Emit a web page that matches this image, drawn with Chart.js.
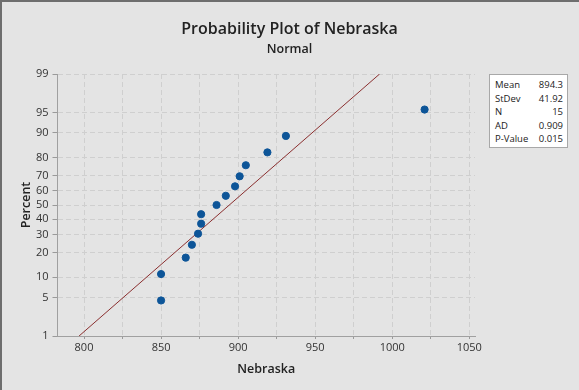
<!DOCTYPE html>
<html>
<head>
<meta charset="utf-8">
<script src="https://cdn.jsdelivr.net/npm/chart.js@4"></script>
<style>
  html, body { margin: 0; padding: 0; }
  body { width: 579px; height: 390px; background: #e4e4e4; position: relative; overflow: hidden;
         font-family: "Open Sans", "Noto Sans", sans-serif; color: #222; }
  #frame { position: absolute; left: 0; top: 0; width: 579px; height: 390px; box-sizing: border-box;
           border-left: 2px solid #6e6e6e; border-top: 2px solid #6e6e6e; pointer-events: none; }
  #wrap { position: absolute; left: 0; top: 0; width: 579px; height: 390px; }
  .title { position: absolute; left: 0; width: 579px; text-align: center; font-weight: 600; }
  #t1 { top: 17px; font-size: 16px; }
  #t2 { top: 40px; font-size: 12.5px; }
  #stats { position: absolute; left: 489px; top: 74px; width: 79px; height: 74px; box-sizing: border-box;
           background: #fff; border: 1px solid #a8a8a8; font-size: 9.5px; padding: 3px 4px 0 5px; line-height: 13.6px; }
  #stats div { display: flex; justify-content: space-between; }
</style>
</head>
<body>
<div id="wrap"><canvas id="chart" width="579" height="390"></canvas></div>
<div class="title" id="t1">Probability Plot of Nebraska</div>
<div class="title" id="t2">Normal</div>
<div id="stats"></div>
<div id="frame"></div>
<script>
// ── Data ──
const nebraska = [850, 850, 866, 870, 874, 876, 876, 886, 892, 898, 901, 905, 919, 931, 1021];
const percents = [4.5, 11.0, 17.5, 24.0, 30.5, 37.0, 43.5, 50.0, 56.5, 63.0, 69.5, 76.0, 82.5, 89.0, 95.5];
const fitX = [796.8, 991.8];
const fitPct = [1, 99];
const pctTicks = [1, 5, 10, 20, 30, 40, 50, 60, 70, 80, 90, 95, 99];
const xTicks = [800, 825, 850, 875, 900, 925, 950, 975, 1000, 1025, 1050];
const statLabels = ['Mean', 'StDev', 'N', 'AD', 'P-Value'];
const statValues = ['894.3', '41.92', '15', '0.909', '0.015'];

// inverse normal CDF (Acklam) – maps percent onto the normal probability scale
function normInv(p) {
  const a = [-39.69683028665376, 220.9460984245205, -275.9285104469687, 138.3577518672690, -30.66479806614716, 2.506628277459239];
  const b = [-54.47609879822406, 161.5858368580409, -155.6989798598866, 66.80131188771972, -13.28068155288572];
  const c = [-0.007784894002430293, -0.3223964580411365, -2.400758277161838, -2.549732539343734, 4.374664141464968, 2.938163982698783];
  const d = [0.007784695709041462, 0.3224671290700398, 2.445134137142996, 3.754408661907416];
  const pl = 0.02425;
  let q, r;
  if (p < pl) {
    q = Math.sqrt(-2 * Math.log(p));
    return (((((c[0]*q+c[1])*q+c[2])*q+c[3])*q+c[4])*q+c[5]) / ((((d[0]*q+d[1])*q+d[2])*q+d[3])*q+1);
  }
  if (p > 1 - pl) {
    q = Math.sqrt(-2 * Math.log(1 - p));
    return -(((((c[0]*q+c[1])*q+c[2])*q+c[3])*q+c[4])*q+c[5]) / ((((d[0]*q+d[1])*q+d[2])*q+d[3])*q+1);
  }
  q = p - 0.5; r = q * q;
  return (((((a[0]*r+a[1])*r+a[2])*r+a[3])*r+a[4])*r+a[5])*q / (((((b[0]*r+b[1])*r+b[2])*r+b[3])*r+b[4])*r+1);
}
const z = pct => normInv(pct / 100);

document.getElementById('stats').innerHTML = statLabels
  .map((l, i) => `<div><span>${l}</span><span>${statValues[i]}</span></div>`).join('');

const tickFont = { family: '"Open Sans", "Noto Sans", sans-serif', size: 11 };
const gridCol = '#cfcfcf';

new Chart(document.getElementById('chart'), {
  type: 'scatter',
  data: {
    datasets: [
      {
        data: fitX.map((x, i) => ({ x, y: z(fitPct[i]) })),
        showLine: true,
        borderColor: '#8a2f2f',
        borderWidth: 1,
        pointRadius: 0,
        order: 2,
      },
      {
        data: nebraska.map((x, i) => ({ x, y: z(percents[i]) })),
        backgroundColor: '#0d5598',
        borderColor: '#0d5598',
        pointRadius: 3.6,
        order: 1,
      }
    ]
  },
  options: {
    responsive: false,
    animation: false,
    events: [],
    layout: { padding: { top: 74, right: 104, bottom: 0, left: 0 } },
    plugins: { legend: { display: false }, tooltip: { enabled: false } },
    scales: {
      x: {
        type: 'linear',
        min: 782.8, max: 1053.7,
        afterFit: s => { s.height = 54; },
        afterBuildTicks: s => { s.ticks = xTicks.map(v => ({ value: v })); },
        ticks: {
          color: '#333', font: tickFont, padding: 2, maxRotation: 0, autoSkip: false,
          callback: v => (v % 50 === 0 ? String(v) : '')
        },
        grid: { color: gridCol, tickLength: 3, tickColor: '#9a9a9a', tickBorderDash: [] },
        border: { color: '#a0a0a0', width: 1, dash: [5, 3] },
        title: { display: true, text: 'Nebraska', color: '#222',
                 font: { family: '"Open Sans", "Noto Sans", sans-serif', size: 12.5, weight: '600' },
                 padding: { top: 0, bottom: 13 } }
      },
      y: {
        type: 'linear',
        min: z(1), max: z(99),
        afterFit: s => { s.width = 57.5; },
        afterBuildTicks: s => { s.ticks = pctTicks.map(p => ({ value: z(p) })); },
        ticks: {
          color: '#333', font: tickFont, padding: 4, autoSkip: false,
          callback: (v, i) => String(pctTicks[i])
        },
        grid: { color: gridCol, tickLength: 5, tickColor: '#9a9a9a', tickBorderDash: [] },
        border: { color: '#a0a0a0', width: 1, dash: [5, 3] },
        title: { display: true, text: 'Percent', color: '#222',
                 font: { family: '"Open Sans", "Noto Sans", sans-serif', size: 12.5, weight: '600' },
                 padding: { top: 19 } }
      }
    }
  }
});
</script>
</body>
</html>
